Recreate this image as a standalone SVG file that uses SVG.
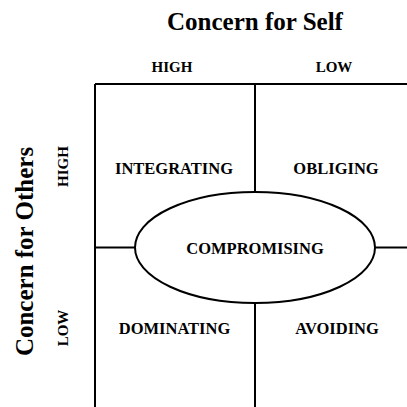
<svg xmlns="http://www.w3.org/2000/svg" width="407" height="407" viewBox="0 0 407 407">
  <style>
    text { font-family: "Liberation Serif", "Times New Roman", serif; font-weight: bold; fill: #000; text-anchor: middle; }
    .title { font-size: 25px; }
    .axis { font-size: 15px; }
    .label { font-size: 16.5px; }
    .line { stroke: #000; stroke-width: 2; fill: none; }
  </style>
  <rect width="407" height="407" fill="#fff"/>

  <!-- axis titles -->
  <text class="title" x="255" y="30">Concern for Self</text>
  <text class="title" transform="translate(33,251.5) rotate(-90)">Concern for Others</text>

  <!-- axis level markers -->
  <text class="axis" x="172" y="72">HIGH</text>
  <text class="axis" x="334" y="72">LOW</text>
  <text class="axis" transform="translate(68,166.5) rotate(-90)">HIGH</text>
  <text class="axis" transform="translate(68,328) rotate(-90)">LOW</text>

  <!-- grid lines -->
  <g id="connectors">
    <path class="line" d="M95,84 H407"/>
    <path class="line" d="M95,84 V407"/>
    <path class="line" d="M255,84 V192"/>
    <path class="line" d="M255,303 V407"/>
    <path class="line" d="M95,247.5 H135"/>
    <path class="line" d="M375,247.5 H407"/>
  </g>

  <g id="integrating">
    <text class="label" x="174" y="174">INTEGRATING</text>
  </g>
  <g id="obliging">
    <text class="label" x="336" y="174">OBLIGING</text>
  </g>
  <g id="compromising">
    <ellipse class="line" cx="255" cy="247.5" rx="120" ry="55.5"/>
    <text class="label" x="255" y="254">COMPROMISING</text>
  </g>
  <g id="dominating">
    <text class="label" x="174.5" y="334">DOMINATING</text>
  </g>
  <g id="avoiding">
    <text class="label" x="337" y="334">AVOIDING</text>
  </g>
</svg>
